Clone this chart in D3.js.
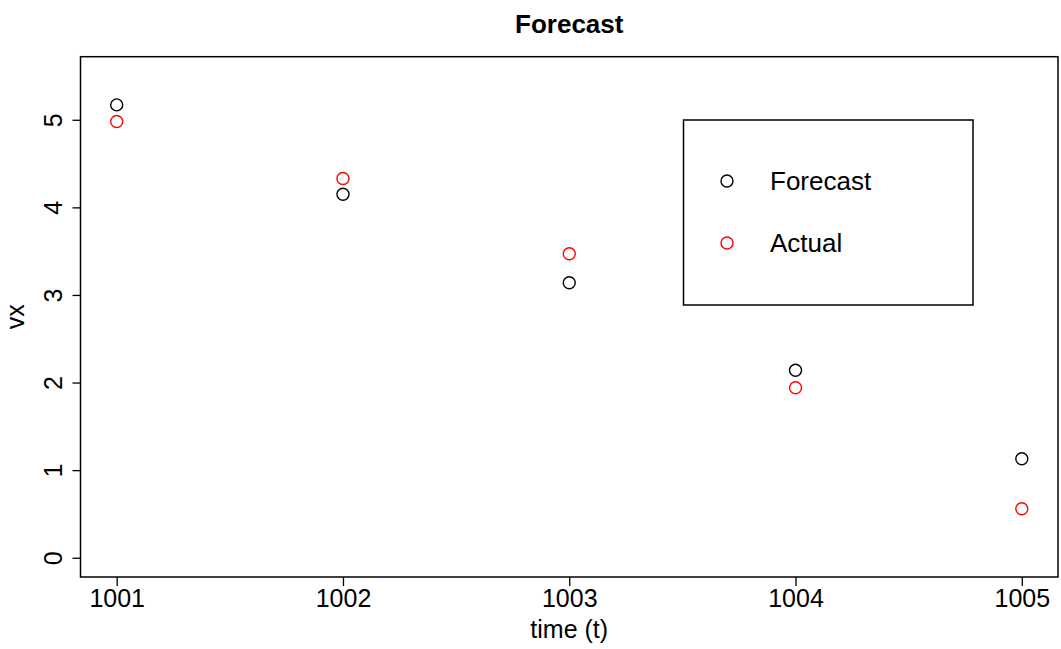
<!DOCTYPE html>
<html><head><meta charset="utf-8">
<script src="https://cdn.jsdelivr.net/npm/d3@7"></script>
<style>body{margin:0;background:#fff}svg{display:block}text{font-family:"Liberation Sans",Arial,sans-serif}</style>
</head><body>
<script>
const times = [1001, 1002, 1003, 1004, 1005];
const forecast = [5.17, 4.15, 3.14, 2.14, 1.13];
const actual = [4.98, 4.33, 3.47, 1.94, 0.56];
const xTicks = [1001, 1002, 1003, 1004, 1005];
const yTicks = [0, 1, 2, 3, 4, 5];
const seriesNames = ["Forecast", "Actual"];
const seriesColors = ["#000000", "#ff0000"];

const W = 1061, H = 649;
const L = 80.5, R = 1058, T = 56.7, B = 577;
const svg = d3.select("body").append("svg").attr("width", W).attr("height", H);

const x = d3.scaleLinear().domain([1000.84, 1005.16]).range([L, R]);
const y = d3.scaleLinear().domain([-0.22, 5.72]).range([B, T]);

// axes
const xAxis = svg.append("g").attr("transform", `translate(0,${B})`)
  .call(d3.axisBottom(x).tickValues(xTicks).tickFormat(d3.format("d")).tickSize(9).tickPadding(3));
const yAxis = svg.append("g").attr("transform", `translate(${L},0)`)
  .call(d3.axisLeft(y).tickValues(yTicks).tickFormat(d3.format("d")).tickSize(8).tickPadding(0));
[xAxis, yAxis].forEach(g => {
  g.select(".domain").remove();
  g.selectAll(".tick line").attr("stroke", "#000").attr("stroke-width", 1.3);
  g.selectAll("text").attr("fill", "#000").style("font-size", "25px");
});
yAxis.selectAll(".tick text")
  .attr("x", 0).attr("dy", 0)
  .attr("text-anchor", "middle")
  .attr("transform", "translate(-19,0) rotate(-90)");

// plot box
svg.append("rect").attr("x", L).attr("y", T).attr("width", R - L).attr("height", B - T)
  .attr("fill", "none").attr("stroke", "#000").attr("stroke-width", 1.5);

// points
const series = [forecast, actual];
series.forEach((vals, i) => {
  svg.append("g").selectAll("circle").data(vals).join("circle")
    .attr("cx", (d, j) => x(times[j])).attr("cy", d => y(d)).attr("r", 6)
    .attr("fill", "none").attr("stroke", seriesColors[i]).attr("stroke-width", 1.4);
});

// title and labels
svg.append("text").attr("x", (L + R) / 2).attr("y", 32.5).attr("text-anchor", "middle")
  .style("font-size", "26px").style("font-weight", "bold").text("Forecast");
svg.append("text").attr("x", (L + R) / 2).attr("y", 638).attr("text-anchor", "middle")
  .style("font-size", "25px").text("time (t)");
svg.append("text").attr("transform", `translate(24,${(T + B) / 2}) rotate(-90)`).attr("text-anchor", "middle")
  .style("font-size", "25px").text("vx");

// legend
const lg = svg.append("g");
lg.append("rect").attr("x", 683.5).attr("y", 120).attr("width", 289.5).attr("height", 185)
  .attr("fill", "#fff").attr("stroke", "#000").attr("stroke-width", 1.5);
seriesNames.forEach((name, i) => {
  const cy = 181 + i * 62;
  lg.append("circle").attr("cx", 727).attr("cy", cy).attr("r", 6)
    .attr("fill", "none").attr("stroke", seriesColors[i]).attr("stroke-width", 1.4);
  lg.append("text").attr("x", 770).attr("y", cy).attr("dy", "0.35em")
    .style("font-size", "26px").attr("fill", "#000").text(name);
});
</script>
</body></html>
